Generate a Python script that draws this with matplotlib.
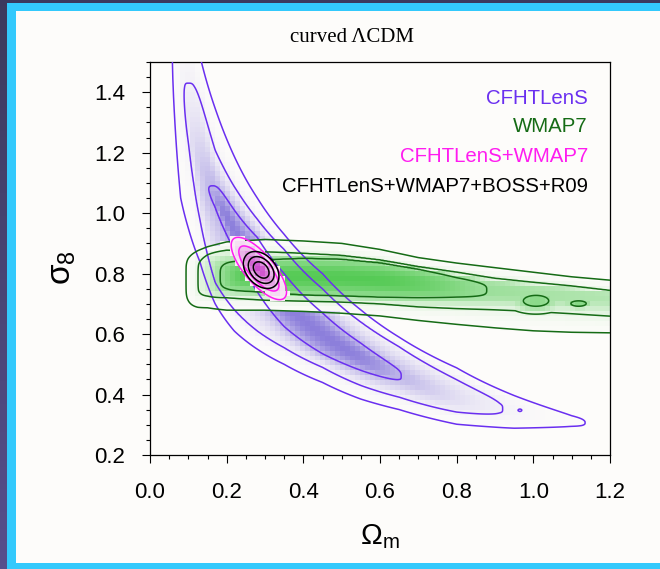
import numpy as np
import matplotlib
matplotlib.use("Agg")
import matplotlib.pyplot as plt
from matplotlib.patches import Rectangle

# ------------------------------------------------------------------
# Values
# ------------------------------------------------------------------
# CFHTLenS (banana): sigma_8 of contour boundaries at Omega_m knots
om_b  = [0.04, 0.06, 0.08, 0.10, 0.13, 0.17, 0.22, 0.28, 0.35, 0.45, 0.55, 0.65, 0.80, 0.95, 1.10, 1.25]
b3_lo = [2.30, 1.38, 1.05, 0.95, 0.84, 0.70, 0.61, 0.55, 0.50, 0.44, 0.385, 0.35, 0.30, 0.283, 0.281, 0.270]
b2_lo = [2.60, 1.70, 1.40, 1.22, 0.98, 0.77, 0.68, 0.61, 0.555, 0.49, 0.43, 0.39, 0.335, 0.31, 0.295, 0.280]
b1_lo = [2.80, 1.90, 1.55, 1.32, 1.14, 1.02, 0.88, 0.74, 0.625, 0.535, 0.48, 0.44, 0.37, 0.33, 0.305, 0.288]
b1_hi = [3.10, 2.20, 1.80, 1.55, 1.32, 1.12, 1.01, 0.92, 0.80, 0.67, 0.57, 0.49, 0.41, 0.36, 0.318, 0.298]
b2_hi = [3.30, 2.40, 1.95, 1.70, 1.45, 1.22, 1.09, 0.98, 0.88, 0.75, 0.64, 0.56, 0.46, 0.385, 0.33, 0.307]
b3_hi = [3.50, 2.60, 2.20, 1.85, 1.55, 1.36, 1.19, 1.05, 0.93, 0.80, 0.68, 0.59, 0.49, 0.40, 0.34, 0.316]
b_tip_top_s8 = [0.98, 1.09, 1.43, 1.78]     # sigma_8 where 68/95/99.7 close at the top
b_tip_bot_om = [0.50, 0.655, 0.92, 1.135]   # Omega_m where they close at the bottom
b_island = [(0.965, 0.348, 0.005, 0.004)]   # small 95% island (x, y, ax, ay)

# WMAP7 band
om_g  = [0.08, 0.15, 0.20, 0.30, 0.40, 0.50, 0.60, 0.70, 0.80, 0.90, 1.00, 1.10, 1.20, 1.30]
g3_lo = [0.68, 0.685, 0.679, 0.679, 0.675, 0.669, 0.66, 0.645, 0.632, 0.62, 0.61, 0.605, 0.603, 0.60]
g2_lo = [0.71, 0.72, 0.72, 0.712, 0.709, 0.706, 0.70, 0.69, 0.684, 0.679, 0.673, 0.665, 0.656, 0.65]
g1_lo = [0.74, 0.745, 0.745, 0.738, 0.729, 0.726, 0.722, 0.72, 0.719, 0.715, 0.71, 0.705, 0.70, 0.695]
g1_hi = [0.82, 0.835, 0.84, 0.846, 0.851, 0.848, 0.836, 0.815, 0.79, 0.772, 0.758, 0.748, 0.738, 0.73]
g2_hi = [0.84, 0.87, 0.878, 0.872, 0.867, 0.86, 0.845, 0.823, 0.805, 0.785, 0.772, 0.76, 0.745, 0.74]
g3_hi = [0.86, 0.89, 0.905, 0.913, 0.908, 0.90, 0.88, 0.853, 0.835, 0.82, 0.805, 0.79, 0.779, 0.77]
g_tip_left_om = [0.26, 0.183, 0.125, 0.094]
g_tip_right_om = [0.55, 0.878, 2.3, 3.5]
g_islands = [(1.007, 0.710, 0.033, 0.018), (1.118, 0.701, 0.020, 0.009)]

# CFHTLenS+WMAP7 and CFHTLenS+WMAP7+BOSS+R09 ellipses
m_center = (0.284, 0.817); m_sig = (0.021, 0.030); m_rho = -0.75; m_levels = [6.18, 11.8]
k_center = (0.290, 0.812); k_sig = (0.0135, 0.0178); k_rho = -0.35; k_levels = [2.30, 6.18, 11.8]

labels = ["CFHTLenS", "WMAP7", "CFHTLenS+WMAP7", "CFHTLenS+WMAP7+BOSS+R09"]
xticks = [0.0, 0.2, 0.4, 0.6, 0.8, 1.0, 1.2]
yticks = [0.2, 0.4, 0.6, 0.8, 1.0, 1.2, 1.4]

# ------------------------------------------------------------------
C_BLUE = "#6a2ff0"
C_GREEN = "#156b15"
C_MAG = "#ff1cf0"
C_BLACK = "#000000"
BG = np.array([0.992, 0.988, 0.980])


def ramp(v, xk, yk):
    xk = np.asarray(xk, float); yk = np.asarray(yk, float)
    out = np.interp(v, xk, yk)
    out = np.where(v < xk[0], yk[0] + (v - xk[0]) * (yk[1] - yk[0]) / (xk[1] - xk[0]), out)
    out = np.where(v > xk[-1], yk[-1] + (v - xk[-1]) * (yk[-1] - yk[-2]) / (xk[-1] - xk[-2]), out)
    return out


def side_level(v, mid, bounds):
    xs = [mid] + list(bounds)
    res = np.zeros_like(v)
    for i in range(3):
        a, b = xs[i], xs[i + 1]
        res = np.where((v >= a) & (v < b), i + (v - a) / (b - a), res)
    a, b = xs[2], xs[3]
    res = np.where(v >= xs[3], 2 + (v - a) / (b - a), res)
    return res


def band_r(Y, lo, hi):
    mid = 0.5 * (lo[0] + hi[0])
    up = side_level(Y, mid, hi)
    dn = side_level(-Y, -mid, [-l for l in lo])
    return np.where(Y >= mid, up, dn)


def blue_r(OM, S8):
    lx = np.log(OM)
    Y = np.log(S8) + 0.62 * lx
    lk = np.log(om_b)
    def tr(arr):
        return np.interp(lx, lk, np.log(arr) + 0.62 * lk)
    lo = [tr(b1_lo), tr(b2_lo), tr(b3_lo)]
    hi = [tr(b1_hi), tr(b2_hi), tr(b3_hi)]
    rp = band_r(Y, lo, hi)
    ra = np.maximum(np.clip(ramp(S8, b_tip_top_s8, [0, 1, 2, 3]), 0, None),
                    np.clip(ramp(OM, b_tip_bot_om, [0, 1, 2, 3]), 0, None))
    r = (rp ** 4 + ra ** 4) ** 0.25
    for (cx, cy, ax_, ay_) in b_island:
        d2 = ((OM - cx) / ax_) ** 2 + ((S8 - cy) / ay_) ** 2
        r = np.minimum(r, 1.8 + 0.2 * d2)
    return r


def green_r(OM, S8):
    lo = [np.interp(OM, om_g, g1_lo), np.interp(OM, om_g, g2_lo), np.interp(OM, om_g, g3_lo)]
    hi = [np.interp(OM, om_g, g1_hi), np.interp(OM, om_g, g2_hi), np.interp(OM, om_g, g3_hi)]
    rp = band_r(S8, lo, hi)
    rl = np.clip(ramp(OM, g_tip_left_om[::-1], [3, 2, 1, 0]), 0, None)
    rr = np.clip(ramp(OM, g_tip_right_om, [0, 1, 2, 3]), 0, None)
    ra = np.maximum(rl, rr)
    r = (rp ** 4 + ra ** 4) ** 0.25
    for (cx, cy, ax_, ay_) in g_islands:
        d2 = ((OM - cx) / ax_) ** 2 + ((S8 - cy) / ay_) ** 2
        r = np.minimum(r, 0.8 + 0.2 * d2)
    return r


def gauss_k2(OM, S8, c, s, rho):
    dx = (OM - c[0]) / s[0]
    dy = (S8 - c[1]) / s[1]
    return (dx ** 2 - 2 * rho * dx * dy + dy ** 2) / (1 - rho ** 2)


# ------------------------------------------------------------------
plt.rcParams['font.family'] = ['Liberation Sans', 'DejaVu Sans']
plt.rcParams['mathtext.fontset'] = 'custom'
plt.rcParams['mathtext.rm'] = 'Liberation Sans'
plt.rcParams['mathtext.it'] = 'Liberation Sans'

W, H = 660, 569
fig = plt.figure(figsize=(6.6, 5.69), dpi=100)

# screenshot frame
bg_ax = fig.add_axes([0, 0, 1, 1], zorder=-10)
bg_ax.set_axis_off()
grad = np.linspace(0, 1, 100)[:, None]
c_top = np.array([0.235, 0.227, 0.365]); c_bot = np.array([0.34, 0.31, 0.55])
bg_ax.imshow((c_top + grad[..., None] * (c_bot - c_top)) * np.ones((1, 2, 1)),
             extent=[0, 1, 0, 1], aspect='auto', origin='upper')
bg_ax.add_patch(Rectangle((7 / W, 0), 1, 1 - 3 / H, transform=bg_ax.transAxes,
                          fc='#33c9fc', ec='none'))
bg_ax.add_patch(Rectangle((16 / W, 6 / H), 1, (563 - 11) / H, transform=bg_ax.transAxes,
                          fc=BG, ec='none'))
bg_ax.set_xlim(0, 1); bg_ax.set_ylim(0, 1)

ax = fig.add_axes([150 / W, 1 - 455 / H, 460 / W, 393 / H])
ax.set_facecolor('none')

# shading grids (coarse, pixelated like the MCMC histograms)
nx, ny = 92, 79
xe = np.linspace(0.0, 1.2, nx + 1); ye = np.linspace(0.2, 1.5, ny + 1)
xc = 0.5 * (xe[1:] + xe[:-1]); yc = 0.5 * (ye[1:] + ye[:-1])
OMc, S8c = np.meshgrid(xc, yc)
ext = [0, 1.2, 0.2, 1.5]

rb = blue_r(OMc, S8c)
Ib = np.exp(-0.6 * rb ** 2)
img_b = np.zeros((ny, nx, 4))
img_b[..., :3] = [0.40, 0.33, 0.82]
img_b[..., 3] = 0.75 * Ib
ax.imshow(img_b, extent=ext, origin='lower', aspect='auto', interpolation='nearest', zorder=1)

rg = green_r(OMc, S8c)
Ig = 0.85 * np.exp(-0.55 * rg ** 2)
img_g = np.zeros((ny, nx, 4))
green = np.array([0.22, 0.76, 0.22])
img_g[..., :3] = BG + Ig[..., None] * (green - BG)
img_g[..., 3] = (rg < 3.0).astype(float)
ax.imshow(img_g, extent=ext, origin='lower', aspect='auto', interpolation='nearest', zorder=2)

km = gauss_k2(OMc, S8c, m_center, m_sig, m_rho)
Im = np.exp(-0.22 * km)
img_m = np.zeros((ny, nx, 4))
pink = np.array([0.80, 0.30, 0.80])
img_m[..., :3] = BG + Im[..., None] * (pink - BG)
img_m[..., 3] = (km < 13.0).astype(float)
ax.imshow(img_m, extent=ext, origin='lower', aspect='auto', interpolation='nearest', zorder=5)

# contour lines (fine grid)
fx_ = np.linspace(0.002, 1.3, 700); fy_ = np.linspace(0.15, 1.7, 800)
OMf, S8f = np.meshgrid(fx_, fy_)
ax.contour(OMf, S8f, blue_r(OMf, S8f), levels=[1, 2, 3], colors=C_BLUE, linewidths=1.1, zorder=3)
ax.contour(OMf, S8f, green_r(OMf, S8f), levels=[1, 2, 3], colors=C_GREEN, linewidths=1.1, zorder=4)
ax.contour(OMf, S8f, gauss_k2(OMf, S8f, m_center, m_sig, m_rho), levels=m_levels,
           colors=C_MAG, linewidths=1.1, zorder=6)
ax.contour(OMf, S8f, gauss_k2(OMf, S8f, k_center, k_sig, k_rho), levels=k_levels,
           colors=C_BLACK, linewidths=1.1, zorder=7)

ax.set_xlim(0, 1.2)
ax.set_ylim(0.2, 1.5)
ax.set_xticks(xticks)
ax.set_xticklabels([f"{v:.1f}" for v in xticks])
ax.set_yticks(yticks)
ax.set_yticklabels([f"{v:.1f}" for v in yticks])
ax.set_xticks(np.arange(0, 1.2001, 0.05), minor=True)
ax.set_yticks(np.arange(0.2, 1.5001, 0.05), minor=True)
ax.tick_params(which='major', direction='out', length=5.8, width=0.8, labelsize=16,
               top=False, right=False)
ax.tick_params(which='minor', direction='out', length=3.2, width=0.8, top=False, right=False)
ax.tick_params(axis='x', which='major', pad=14)
ax.tick_params(axis='y', which='major', pad=12)
for sp in ax.spines.values():
    sp.set_linewidth(0.9)
    sp.set_zorder(2.5)

# legend text
leg_cols = [C_BLUE, C_GREEN, C_MAG, C_BLACK]
leg_y = [98, 127, 157, 186]
for lab, col, py in zip(labels, leg_cols, leg_y):
    ax.text((588 - 150) / 460, (455 - py) / 393, lab, color=col, fontsize=14.7,
            ha='right', va='center', transform=ax.transAxes, zorder=10)

fig.text(352 / W, 1 - 38 / H, "curved \u039bCDM", family=['Liberation Serif', 'DejaVu Serif'],
         fontsize=15, ha='center', va='center')
fig.text(380 / W, 1 - 537 / H, r"$\mathrm{\Omega_m}$", fontsize=21, ha='center', va='center')
fig.text(62 / W, 1 - 268 / H, r"$\mathrm{\sigma_8}$", fontsize=24, ha='center', va='center',
         rotation=90)

fig.savefig("out.png", dpi=100)
